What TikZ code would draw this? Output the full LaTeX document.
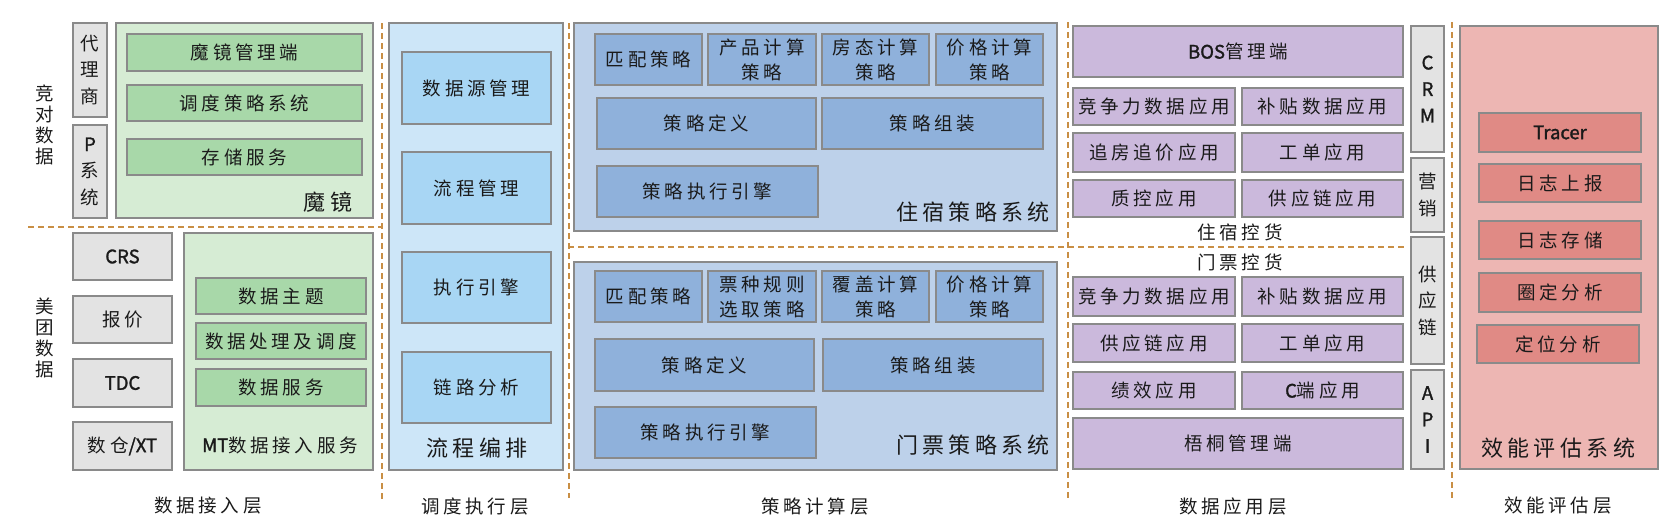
\documentclass[tikz,border=0pt]{standalone}
\usepackage{fontspec}
\setmainfont{Noto Sans CJK SC}[LetterSpace=20]
\newfontfamily\latfont{Noto Sans CJK SC}[FakeBold=1.5]
\newcommand{\lat}[1]{{\latfont #1}}
\definecolor{boxline}{HTML}{8A8A8A}
\definecolor{grayfill}{HTML}{E3E3E3}
\definecolor{greenout}{HTML}{D6ECD4}
\definecolor{greenin}{HTML}{A8D8A9}
\definecolor{blueout}{HTML}{CDE6F8}
\definecolor{bluein}{HTML}{A8D6F4}
\definecolor{stratout}{HTML}{BDD1EA}
\definecolor{stratin}{HTML}{8FB1DB}
\definecolor{appfill}{HTML}{CBB9DC}
\definecolor{redout}{HTML}{EDB6B3}
\definecolor{redin}{HTML}{E08A85}
\definecolor{sepline}{HTML}{C98F45}
\definecolor{txt}{HTML}{1A1A1A}
\begin{document}
\begin{tikzpicture}[x=1pt, y=-1pt, text=txt,
  wh/.style 2 args={minimum width=#1, minimum height=#2},
  box/.style={draw=boxline, line width=1.2pt, inner sep=0pt, align=center, font=\fontsize{18.5}{25}\selectfont},
  graybox/.style={box, fill=grayfill},
  vgray/.style={box, fill=grayfill, font=\fontsize{18.5}{26.5}\selectfont},
  greenbig/.style={box, fill=greenout},
  greenbox/.style={box, fill=greenin},
  bluebig/.style={box, fill=blueout},
  bluebox/.style={box, fill=bluein},
  stratbig/.style={box, fill=stratout},
  stratbox/.style={box, fill=stratin},
  appbox/.style={box, fill=appfill},
  redbig/.style={box, fill=redout},
  redbox/.style={box, fill=redin},
  title/.style={inner sep=0pt, font=\fontsize{22}{25}\selectfont},
  small/.style={inner sep=0pt, align=center, font=\fontsize{18.5}{21}\selectfont},
  sep/.style={draw=sepline, line width=1.5pt, dash pattern=on 6pt off 4pt}]
\useasboundingbox (0,0) rectangle (1680,531);

% data access layer
\node[small] (jdsj) at (45,125) {竞\\对\\数\\据};
\node[vgray, wh={34}{94}] (dls) at (90,70) {代\\理\\商};
\node[vgray, wh={34}{93}] (psys) at (90,171.5) {\lat{P}\\系\\统};
\node[greenbig, wh={257}{195}] (mojing) at (244.5,120.5) {};
\node[greenbox, wh={235}{37}] (mjgl) at (244.5,52.5) {魔镜管理端};
\node[greenbox, wh={235}{36}] (ddcl) at (244.5,103) {调度策略系统};
\node[greenbox, wh={235}{36}] (ccfw) at (244.5,157) {存储服务};
\node[title] (mjlbl) at (328,202) {魔镜};
\node[small] (mtsj) at (45,338) {美\\团\\数\\据};
\node[graybox, wh={99}{47}] (crs) at (122.5,256.5) {\lat{CRS}};
\node[graybox, wh={99}{47}] (bj) at (122.5,319.5) {报价};
\node[graybox, wh={99}{48}] (tdc) at (122.5,383) {\lat{TDC}};
\node[graybox, wh={99}{48}] (sc) at (122.5,446) {数仓\lat{/XT}};
\node[greenbig, wh={189}{237}] (mt) at (278.5,351.5) {};
\node[greenbox, wh={170}{36}] (sjzt) at (281,296) {数据主题};
\node[greenbox, wh={170}{36}] (sjcl) at (281,341) {数据处理及调度};
\node[greenbox, wh={170}{37}] (sjfw) at (281,387.5) {数据服务};
\node[small] (mtlbl) at (280,445) {\lat{MT}数据接入服务};
\node[small] (layer1) at (208,506) {数据接入层};

% scheduling layer
\node[bluebig, wh={174}{447}] (lcbp) at (476,246.5) {};
\node[bluebox, wh={149}{72}] (sjy) at (476.5,88) {数据源管理};
\node[bluebox, wh={149}{72}] (lcgl) at (476.5,188) {流程管理};
\node[bluebox, wh={149}{71}] (zxyq) at (476.5,287.5) {执行引擎};
\node[bluebox, wh={149}{71}] (llfx) at (476.5,387.5) {链路分析};
\node[title] (lcbplbl) at (477,448) {流程编排};
\node[small] (layer2) at (475,506) {调度执行层};

% strategy layer
\node[stratbig, wh={483}{208}] (zs) at (815.5,127) {};
\node[stratbox, wh={107}{51}] (zspp) at (648.5,59.5) {匹配策略};
\node[stratbox, wh={108}{51}] (zscp) at (762,59.5) {产品计算\\策略};
\node[stratbox, wh={107}{51}] (zsft) at (875.5,59.5) {房态计算\\策略};
\node[stratbox, wh={107}{51}] (zsjg) at (989.5,59.5) {价格计算\\策略};
\node[stratbox, wh={219}{51}] (zsdy) at (706.5,123.5) {策略定义};
\node[stratbox, wh={221}{51}] (zszz) at (932.5,123.5) {策略组装};
\node[stratbox, wh={221}{51}] (zszx) at (707.5,191.5) {策略执行引擎};
\node[title] (zslbl) at (973,212) {住宿策略系统};
\node[stratbig, wh={483}{208}] (mp) at (815.5,366) {};
\node[stratbox, wh={107}{51}] (mppp) at (648.5,296.5) {匹配策略};
\node[stratbox, wh={108}{51}] (mppz) at (762,296.5) {票种规则\\选取策略};
\node[stratbox, wh={107}{51}] (mpfg) at (875.5,296.5) {覆盖计算\\策略};
\node[stratbox, wh={107}{51}] (mpjg) at (989.5,296.5) {价格计算\\策略};
\node[stratbox, wh={219}{52}] (mpdy) at (704.5,365) {策略定义};
\node[stratbox, wh={220}{52}] (mpzz) at (933,365) {策略组装};
\node[stratbox, wh={221}{51}] (mpzx) at (705.5,432.5) {策略执行引擎};
\node[title] (mplbl) at (973,445) {门票策略系统};
\node[small] (layer3) at (815,506) {策略计算层};

% data application layer
\node[appbox, wh={330}{51}] (bos) at (1238,51.5) {\lat{BOS}管理端};
\node[appbox, wh={162}{37}] (zsjz) at (1154,106.5) {竞争力数据应用};
\node[appbox, wh={161}{37}] (zsbt) at (1322.5,106.5) {补贴数据应用};
\node[appbox, wh={162}{39}] (zfzj) at (1154,152.5) {追房追价应用};
\node[appbox, wh={161}{39}] (zsgd) at (1322.5,152.5) {工单应用};
\node[appbox, wh={162}{37}] (zkyy) at (1154,198.5) {质控应用};
\node[appbox, wh={161}{37}] (zsgy) at (1322.5,198.5) {供应链应用};
\node[small] (zskh) at (1240,232) {住宿控货};
\node[small] (mpkh) at (1240,262) {门票控货};
\node[appbox, wh={162}{39}] (mpjz) at (1154,296.5) {竞争力数据应用};
\node[appbox, wh={161}{39}] (mpbt) at (1322.5,296.5) {补贴数据应用};
\node[appbox, wh={162}{38}] (mpgy) at (1154,343) {供应链应用};
\node[appbox, wh={161}{38}] (mpgd) at (1322.5,343) {工单应用};
\node[appbox, wh={162}{37}] (jxyy) at (1154,390.5) {绩效应用};
\node[appbox, wh={161}{37}] (cdyy) at (1322.5,390.5) {\lat{C}端应用};
\node[appbox, wh={330}{51}] (wtgl) at (1238,443.5) {梧桐管理端};
\node[vgray, wh={33}{126}] (crm) at (1427.5,89) {\lat{C}\\\lat{R}\\\lat{M}};
\node[vgray, wh={33}{74}] (yx) at (1427.5,195) {营\\销};
\node[vgray, wh={33}{127}] (gyl) at (1427.5,300.5) {供\\应\\链};
\node[vgray, wh={33}{99}] (api) at (1427.5,419.5) {\lat{A}\\\lat{P}\\\lat{I}};
\node[small] (layer4) at (1233,506) {数据应用层};

% evaluation layer
\node[redbig, wh={198}{443}] (xn) at (1559,247.5) {};
\node[redbox, wh={162}{39}] (tracer) at (1560,132.5) {\lat{Tracer}};
\node[redbox, wh={162}{38}] (rzsb) at (1560,183) {日志上报};
\node[redbox, wh={162}{38}] (rzcc) at (1560,240) {日志存储};
\node[redbox, wh={162}{39}] (qdfx) at (1560,292.5) {圈定分析};
\node[redbox, wh={162}{38}] (dwfx) at (1558,344) {定位分析};
\node[title] (xnlbl) at (1558,448) {效能评估系统};
\node[small] (layer5) at (1558,506) {效能评估层};

% separators
\draw[sep] (28,227) -- (382,227);
\draw[sep] (568,247) -- (1407,247);
\draw[sep] (382,23) -- (382,502);
\draw[sep] (569,23) -- (569,498);
\draw[sep] (1068,22) -- (1068,498);
\draw[sep] (1452,22) -- (1452,498);
\end{tikzpicture}
\end{document}
